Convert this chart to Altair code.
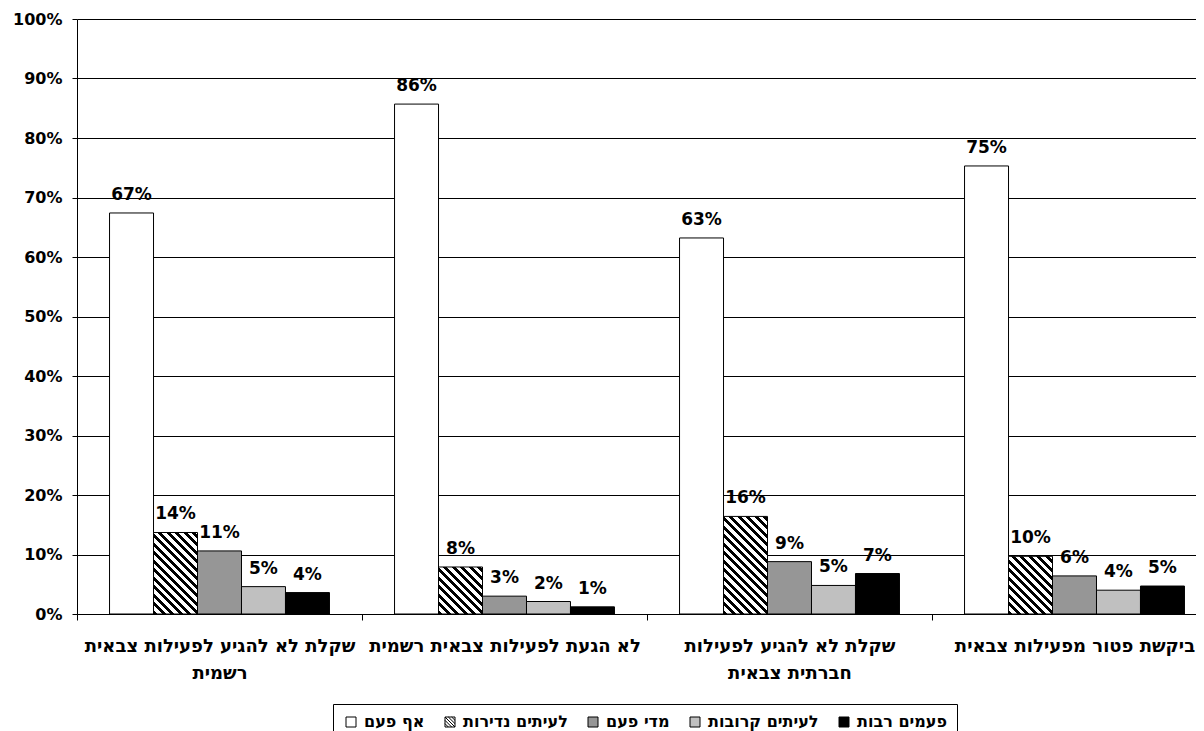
import altair as alt
import pandas as pd

# ---------------- data ----------------
categories = [
    "שקלת לא להגיע לפעילות צבאית\nרשמית",
    "לא הגעת לפעילות צבאית רשמית",
    "שקלת לא להגיע לפעילות\nחברתית צבאית",
    "ביקשת פטור מפעילות צבאית",
]
series = ["אף פעם", "לעיתים נדירות", "מדי פעם", "לעיתים קרובות", "פעמים רבות"]
never = [67.4, 85.7, 63.2, 75.3]
rarely = [13.7, 7.9, 16.4, 9.7]
sometimes = [10.6, 3.0, 8.8, 6.4]
often = [4.6, 2.1, 4.8, 4.0]
many = [3.6, 1.2, 6.8, 4.7]
y_ticks = [0, 10, 20, 30, 40, 50, 60, 70, 80, 90, 100]

# ---------------- styles ----------------
colors = ["#FFFFFF", "#FFFFFF", "#969696", "#C0C0C0", "#000000"]
outline = ["#000000"] * 5
HATCH_SYMBOL = (
    "M-1,-1H1V1H-1Z M-1,-1L1,1 M-0.33,-1L1,0.33 M-1,-0.33L0.33,1 "
    "M0.33,-1L1,-0.33 M-1,0.33L-0.33,1"
)
shapes = ["square", HATCH_SYMBOL, "square", "square", "square"]
FONT = "DejaVu Sans"
PLOT_W, PLOT_H = 1119, 595
X_RANGE = 1140
OUTER_PAD = 0.74

all_values = [never, rarely, sometimes, often, many]
rows = []
for ci, cat in enumerate(categories):
    for si, s in enumerate(series):
        rows.append({"category": cat, "cat_idx": ci, "series": s, "value": all_values[si][ci]})
df = pd.DataFrame(rows)


def hatch(w, h, period, black_frac=0.5):
    """Diagonal (top-left to bottom-right) stripes as a bbox linear gradient."""
    a = (w + h) / (w * w + h * h)
    n = (w + h) / period
    stops = []
    k = 0
    while k < n:
        o0 = k / n
        o1 = min((k + black_frac) / n, 1.0)
        o2 = min((k + 1) / n, 1.0)
        stops += [
            {"offset": o0, "color": "#000000"},
            {"offset": o1, "color": "#000000"},
            {"offset": o1, "color": "#FFFFFF"},
            {"offset": o2, "color": "#FFFFFF"},
        ]
        k += 1
    return {"gradient": "linear", "x1": 0, "y1": 1, "x2": a * w, "y2": 1 - a * h, "stops": stops}


band = X_RANGE / len(categories)
bar_w = band / (len(series) + 2 * OUTER_PAD)
hatched = series[1]
bar_conditions = []
for ci in range(len(categories)):
    h = rarely[ci] / 100 * PLOT_H
    bar_conditions.append({
        "test": f"datum.cat_idx === {ci} && datum.series === '{hatched}'",
        "value": hatch(bar_w, h, 8.5),
    })


def make_legend():
    return alt.Legend(
        title=None,
        orient="none",
        legendX=256,
        legendY=685,
        direction="horizontal",
        columns=5,
        symbolSize=100,
        symbolStrokeColor="black",
        symbolStrokeWidth=1,
        symbolOpacity=1,
        labelFont=FONT,
        labelFontSize=16,
        labelFontWeight="bold",
        labelColor="black",
        labelOffset=5,
        columnPadding=17,
        strokeColor="black",
        fillColor="white",
        padding=10,
    )


fill_scale = alt.Scale(domain=series, range=colors)
stroke_scale = alt.Scale(domain=series, range=outline)
shape_scale = alt.Scale(domain=series, range=shapes)

base = alt.Chart(df).encode(
    x=alt.X(
        "category:N",
        sort=categories,
        title=None,
        scale=alt.Scale(range=[0, X_RANGE], paddingInner=0, paddingOuter=0),
        axis=alt.Axis(
            labelExpr="split(datum.label, '\\n')",
            tickBand="extent",
            tickSize=6,
            tickColor="black",
            domainColor="black",
            labelFont=FONT,
            labelFontSize=18,
            labelFontWeight="bold",
            labelColor="black",
            labelLimit=330,
            labelPadding=17,
            labelLineHeight=27,
            labelAngle=0,
            labelBaseline="top",
            labelOverlap=False,
            grid=False,
        ),
    ),
    xOffset=alt.XOffset(
        "series:N", sort=series, scale=alt.Scale(paddingInner=0, paddingOuter=OUTER_PAD)
    ),
    y=alt.Y(
        "value:Q",
        title=None,
        scale=alt.Scale(domain=[0, 100]),
        axis=alt.Axis(
            values=y_ticks,
            labelExpr="datum.value + '%'",
            grid=True,
            gridColor="black",
            gridWidth=1,
            domainColor="black",
            tickColor="black",
            tickSize=5,
            labelFont=FONT,
            labelFontSize=16,
            labelFontWeight="bold",
            labelColor="black",
            labelPadding=10,
        ),
    ),
)

bars = base.mark_bar(strokeWidth=1).encode(
    fill=alt.Fill(
        "series:N",
        sort=series,
        scale=fill_scale,
        condition=bar_conditions,
        legend=make_legend(),
    ),
    stroke=alt.Stroke("series:N", sort=series, scale=stroke_scale, legend=make_legend()),
)

# empty layer that only feeds the legend with the symbol shapes
legend_feed = base.mark_point(filled=True, strokeWidth=1, opacity=1).encode(
    fill=alt.Fill("series:N", sort=series, scale=fill_scale, legend=make_legend()),
    stroke=alt.Stroke("series:N", sort=series, scale=stroke_scale, legend=make_legend()),
    shape=alt.Shape("series:N", sort=series, scale=shape_scale, legend=make_legend()),
).transform_filter("false")

labels = base.mark_text(
    font=FONT, fontSize=17, fontWeight="bold", color="black", baseline="alphabetic", dy=-13
).transform_calculate(
    label="format(datum.value, '.0f') + '%'"
).encode(text="label:N")

chart = alt.layer(bars, labels, legend_feed).properties(
    width=PLOT_W,
    height=PLOT_H,
    autosize="none",
    padding={"left": 69, "top": 11, "right": 0, "bottom": 117},
).configure_view(strokeWidth=0)

chart.save("out.html", embed_options={"renderer": "svg", "actions": False})
